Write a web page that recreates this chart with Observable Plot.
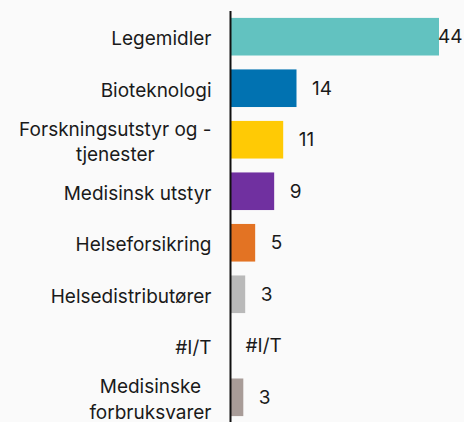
<!DOCTYPE html>
<html>
<head>
<meta charset="utf-8">
<script src="https://cdn.jsdelivr.net/npm/d3@7"></script>
<script src="https://cdn.jsdelivr.net/npm/@observablehq/plot@0.6"></script>
<style>
  html, body { margin: 0; padding: 0; background: #fafafa; overflow: hidden; }
  #chart svg { display: block; }
</style>
</head>
<body>
<div id="chart"></div>
<script>
const categories = [
  "Legemidler",
  "Bioteknologi",
  "Forskningsutstyr og -\ntjenester",
  "Medisinsk utstyr",
  "Helseforsikring",
  "Helsedistributører",
  "#I/T",
  "Medisinske\nforbruksvarer"
];
const values = [44.0, 14.0, 11.2, 9.3, 5.3, 3.2, null, 2.8];
const valueLabels = ["44", "14", "11", "9", "5", "3", "#I/T", "3"];
const colors = ["#62c2c0", "#0172b1", "#ffca05", "#7030a0", "#e37323", "#b9b9b9", "#b9b9b9", "#a89c98"];

const data = categories.map((c, i) => ({cat: c, value: values[i], label: valueLabels[i], color: colors[i]}));
const maxV = d3.max(values);

const FONT_SIZE = 19;
const FONT = "Inter";
const ctx = document.createElement("canvas").getContext("2d");
ctx.font = `${FONT_SIZE}px ${FONT}`;
const widthOf = s => d3.max(s.split("\n"), l => ctx.measureText(l).width);

const catLabels = data.map(d => Plot.text([d], {
  y: "cat",
  text: "cat",
  frameAnchor: "left",
  textAnchor: "middle",
  lineHeight: 1.35,
  dx: -19 - widthOf(d.cat) / 2,
  fill: "#1a1a1a"
}));

const chart = Plot.plot({
  width: 464,
  height: 422,
  marginLeft: 230,
  marginRight: 25,
  marginTop: 11,
  marginBottom: 0,
  style: {background: "#fafafa", fontFamily: FONT, fontSize: FONT_SIZE + "px", color: "#1a1a1a"},
  x: {domain: [0, maxV], axis: null},
  y: {domain: categories, range: [4, 430], padding: 0.27, round: false, axis: null},
  color: {type: "identity"},
  marks: [
    Plot.barX(data, {x: "value", y: "cat", fill: "color"}),
    Plot.text(data.filter(d => d.value !== maxV), {
      x: d => d.value ?? 0, y: "cat", text: "label", textAnchor: "start", dx: 15, fill: "#1a1a1a"
    }),
    Plot.text(data.filter(d => d.value === maxV), {
      y: "cat", text: "label", frameAnchor: "right", textAnchor: "end", dx: 23, fill: "#1a1a1a"
    }),
    ...catLabels,
    Plot.ruleX([0], {stroke: "#111", strokeWidth: 2})
  ]
});
document.getElementById("chart").append(chart);
</script>
</body>
</html>
